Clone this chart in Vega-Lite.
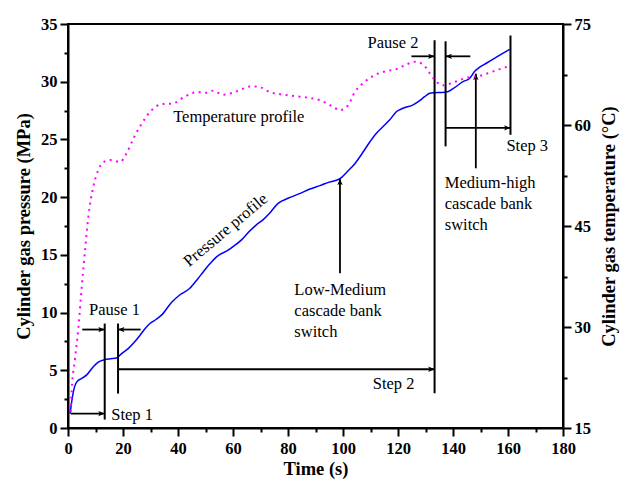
{
  "$schema": "https://vega.github.io/schema/vega-lite/v6.json",
  "width": 495,
  "height": 404,
  "autosize": "none",
  "padding": {"left": 68, "top": 24, "right": 58, "bottom": 54},
  "background": "white",
  "config": {
    "font": "Liberation Serif",
    "view": {"stroke": "black", "strokeWidth": 2},
    "axis": {
      "grid": false,
      "domainColor": "black",
      "domainWidth": 2,
      "tickColor": "black",
      "tickWidth": 2,
      "labelFont": "Liberation Serif",
      "labelFontWeight": "bold",
      "labelFontSize": 16.5,
      "labelColor": "black",
      "labelPadding": 3,
      "titleFont": "Liberation Serif",
      "titleFontWeight": "bold",
      "titleFontSize": 18.5,
      "titleColor": "black",
      "titlePadding": 3
    }
  },
  "datasets": {
    "pressure": [
      {"t": 0.75, "p": 1.25}, {"t": 1.3, "p": 2.2}, {"t": 2.0, "p": 3.2}, {"t": 3.2, "p": 4.0},
      {"t": 5.0, "p": 4.3}, {"t": 6.8, "p": 4.6}, {"t": 9.2, "p": 5.3}, {"t": 11.0, "p": 5.7},
      {"t": 13.5, "p": 5.93}, {"t": 15.5, "p": 6.0}, {"t": 17.7, "p": 6.07}, {"t": 19.5, "p": 6.45},
      {"t": 22.0, "p": 6.9}, {"t": 24.0, "p": 7.4}, {"t": 26.2, "p": 8.04}, {"t": 28.0, "p": 8.6},
      {"t": 29.8, "p": 9.05}, {"t": 32.0, "p": 9.4}, {"t": 34.1, "p": 9.8}, {"t": 37.7, "p": 10.9},
      {"t": 40.5, "p": 11.5}, {"t": 44.3, "p": 12.1}, {"t": 47.3, "p": 12.96}, {"t": 49.1, "p": 13.5},
      {"t": 51.5, "p": 14.2}, {"t": 54.0, "p": 14.83}, {"t": 58.2, "p": 15.4}, {"t": 60.5, "p": 15.8},
      {"t": 63.1, "p": 16.3}, {"t": 65.8, "p": 17.0}, {"t": 68.5, "p": 17.6}, {"t": 71.0, "p": 18.05},
      {"t": 73.3, "p": 18.6}, {"t": 76.4, "p": 19.46}, {"t": 80.0, "p": 19.9}, {"t": 84.2, "p": 20.3},
      {"t": 88.0, "p": 20.7}, {"t": 91.6, "p": 21.0}, {"t": 95.0, "p": 21.3}, {"t": 98.9, "p": 21.6},
      {"t": 101.5, "p": 22.2}, {"t": 104.3, "p": 22.9}, {"t": 107.0, "p": 23.8}, {"t": 109.8, "p": 24.8},
      {"t": 112.0, "p": 25.5}, {"t": 114.5, "p": 26.1}, {"t": 117.0, "p": 26.7}, {"t": 119.4, "p": 27.4},
      {"t": 121.8, "p": 27.7}, {"t": 125.5, "p": 28.0}, {"t": 127.5, "p": 28.3}, {"t": 129.7, "p": 28.7},
      {"t": 131.5, "p": 29.0}, {"t": 133.3, "p": 29.05}, {"t": 135.5, "p": 29.07}, {"t": 137.6, "p": 29.1},
      {"t": 140.0, "p": 29.4}, {"t": 143.6, "p": 30.0}, {"t": 146.1, "p": 30.3}, {"t": 147.9, "p": 30.9},
      {"t": 150.0, "p": 31.3}, {"t": 152.1, "p": 31.6}, {"t": 157.0, "p": 32.3}, {"t": 160.6, "p": 32.8}
    ],
    "temperature": [
      {"t": 1.0, "T": 17.4}, {"t": 1.35, "T": 20.6}, {"t": 2.5, "T": 25.1}, {"t": 3.8, "T": 30.0},
      {"t": 5.0, "T": 36.0}, {"t": 6.2, "T": 41.4}, {"t": 7.4, "T": 46.4}, {"t": 9.2, "T": 50.8},
      {"t": 11.0, "T": 53.3}, {"t": 12.9, "T": 54.5}, {"t": 15.3, "T": 54.8}, {"t": 18.9, "T": 54.5},
      {"t": 21.3, "T": 55.8}, {"t": 23.8, "T": 58.0}, {"t": 26.8, "T": 60.2}, {"t": 30.4, "T": 62.2},
      {"t": 34.1, "T": 63.1}, {"t": 38.2, "T": 63.2}, {"t": 42.4, "T": 64.2}, {"t": 47.3, "T": 64.9},
      {"t": 50.3, "T": 64.8}, {"t": 52.7, "T": 65.1}, {"t": 56.4, "T": 64.5}, {"t": 60.0, "T": 64.8},
      {"t": 63.0, "T": 65.3}, {"t": 66.1, "T": 65.7}, {"t": 69.1, "T": 65.7}, {"t": 73.3, "T": 64.9},
      {"t": 78.2, "T": 64.5}, {"t": 84.3, "T": 64.2}, {"t": 91.5, "T": 63.7}, {"t": 96.4, "T": 62.7},
      {"t": 98.8, "T": 62.2}, {"t": 101.8, "T": 62.9}, {"t": 104.3, "T": 64.9}, {"t": 107.3, "T": 66.2},
      {"t": 111.5, "T": 67.4}, {"t": 115.7, "T": 68.0}, {"t": 119.4, "T": 68.3}, {"t": 123.1, "T": 69.0},
      {"t": 126.1, "T": 69.4}, {"t": 129.1, "T": 69.0}, {"t": 131.5, "T": 67.7}, {"t": 133.3, "T": 66.7},
      {"t": 136.4, "T": 65.9}, {"t": 139.4, "T": 66.2}, {"t": 142.5, "T": 66.7}, {"t": 146.1, "T": 67.1},
      {"t": 149.8, "T": 67.3}, {"t": 153.5, "T": 67.8}, {"t": 157.0, "T": 68.3}, {"t": 160.1, "T": 68.7}
    ],
    "markers": [
      {"t": 13.35, "p": 0.73, "p2": 9.05},
      {"t": 18.2, "p": 2.98, "p2": 9.05},
      {"t": 133.3, "p": 3.0, "p2": 33.6},
      {"t": 137.3, "p": 24.4, "p2": 33.5},
      {"t": 160.9, "p": 25.4, "p2": 34.0}
    ],
    "arrows": [
      {"t": 1.0, "p": 1.25, "t2": 13.35, "p2": 1.25, "head": "right"},
      {"t": 5.2, "p": 8.53, "t2": 13.35, "p2": 8.53, "head": "right"},
      {"t": 26.4, "p": 8.53, "t2": 18.2, "p2": 8.53, "head": "left"},
      {"t": 18.2, "p": 5.09, "t2": 133.3, "p2": 5.09, "head": "right"},
      {"t": 124.9, "p": 32.2, "t2": 133.3, "p2": 32.2, "head": "right"},
      {"t": 146.3, "p": 32.2, "t2": 137.3, "p2": 32.2, "head": "left"},
      {"t": 137.3, "p": 26.0, "t2": 160.9, "p2": 26.0, "head": "right"},
      {"t": 98.9, "p": 13.4, "t2": 98.9, "p2": 21.6, "head": "up"},
      {"t": 148.3, "p": 22.5, "t2": 148.3, "p2": 30.7, "head": "up"}
    ],
    "labels": [
      {"t": 16.9, "p": 10.2, "text": "Pause 1"},
      {"t": 23.3, "p": 1.1, "text": "Step 1"},
      {"t": 118.4, "p": 3.8, "text": "Step 2"},
      {"t": 118.2, "p": 33.36, "text": "Pause 2"},
      {"t": 167.0, "p": 24.4, "text": "Step 3"},
      {"t": 62.1, "p": 26.9, "text": "Temperature profile"}
    ],
    "notes": [
      {"t": 82.3, "p": 11.94, "text": "Low-Medium"},
      {"t": 82.3, "p": 10.14, "text": "cascade bank"},
      {"t": 82.3, "p": 8.34, "text": "switch"},
      {"t": 137.0, "p": 21.2, "text": "Medium-high"},
      {"t": 137.0, "p": 19.4, "text": "cascade bank"},
      {"t": 137.0, "p": 17.6, "text": "switch"}
    ],
    "curveLabels": [
      {"t": 57.3, "p": 17.15, "text": "Pressure profile"}
    ]
  },
  "encoding": {
    "x": {
      "field": "t",
      "type": "quantitative",
      "title": "Time (s)",
      "scale": {"domain": [0, 180], "nice": false},
      "axis": {
        "values": [0, 10, 20, 30, 40, 50, 60, 70, 80, 90, 100, 110, 120, 130, 140, 150, 160, 170, 180],
        "labelExpr": "datum.value % 20 === 0 ? datum.label : ''",
        "tickSize": {"condition": {"test": "datum.value % 20 === 0", "value": 8}, "value": 4},
        "labelPadding": 4,
        "labelFlush": false,
        "labelOverlap": false
      }
    }
  },
  "layer": [
    {
      "encoding": {
        "y": {
          "field": "p",
          "type": "quantitative",
          "title": "Cylinder gas pressure (MPa)",
          "scale": {"domain": [0, 35], "nice": false},
          "axis": {
            "values": [0, 2.5, 5, 7.5, 10, 12.5, 15, 17.5, 20, 22.5, 25, 27.5, 30, 32.5, 35],
            "labelExpr": "datum.value % 5 === 0 ? datum.label : ''",
            "tickSize": {"condition": {"test": "datum.value % 5 === 0", "value": 8}, "value": 4},
            "labelFlush": false,
            "labelOverlap": false,
            "titlePadding": 7
          }
        }
      },
      "layer": [
        {
          "data": {"name": "pressure"},
          "mark": {"type": "line", "color": "#0000ff", "strokeWidth": 1.5, "interpolate": "monotone"}
        },
        {
          "data": {"name": "markers"},
          "mark": {"type": "rule", "color": "black", "strokeWidth": 2},
          "encoding": {"y2": {"field": "p2"}}
        },
        {
          "data": {"name": "arrows"},
          "mark": {"type": "rule", "color": "black", "strokeWidth": 1.8},
          "encoding": {"x2": {"field": "t2"}, "y2": {"field": "p2"}}
        },
        {
          "data": {"name": "arrows"},
          "mark": {"type": "point", "filled": true, "color": "black", "opacity": 1, "size": 160, "strokeWidth": 0},
          "encoding": {
            "x": {"field": "t2", "type": "quantitative", "title": "Time (s)"},
            "y": {"field": "p2", "type": "quantitative", "title": "Cylinder gas pressure (MPa)"},
            "shape": {
              "field": "head",
              "type": "nominal",
              "scale": {
                "domain": ["right", "left", "up"],
                "range": ["M-1,-0.42L0,0L-1,0.42L-0.8,0Z", "M1,-0.42L0,0L1,0.42L0.8,0Z", "M-0.42,1L0,0L0.42,1L0,0.8Z"]
              },
              "legend": null
            }
          }
        },
        {
          "data": {"name": "labels"},
          "mark": {"type": "text", "font": "Liberation Serif", "fontSize": 16.5, "color": "black", "align": "center", "baseline": "middle"},
          "encoding": {"text": {"field": "text"}}
        },
        {
          "data": {"name": "notes"},
          "mark": {"type": "text", "font": "Liberation Serif", "fontSize": 16.5, "color": "black", "align": "left", "baseline": "middle"},
          "encoding": {"text": {"field": "text"}}
        },
        {
          "data": {"name": "curveLabels"},
          "mark": {"type": "text", "font": "Liberation Serif", "fontSize": 16.5, "color": "black", "align": "center", "baseline": "middle", "angle": -40},
          "encoding": {"text": {"field": "text"}}
        }
      ]
    },
    {
      "data": {"name": "temperature"},
      "mark": {"type": "line", "color": "#ff00ff", "strokeWidth": 2, "strokeDash": [2, 4.5], "interpolate": "monotone"},
      "encoding": {
        "y": {
          "field": "T",
          "type": "quantitative",
          "title": "Cylinder gas temperature (°C)",
          "scale": {"domain": [15, 75], "nice": false},
          "axis": {
            "orient": "right",
            "values": [15, 22.5, 30, 37.5, 45, 52.5, 60, 67.5, 75],
            "labelExpr": "(datum.value - 15) % 15 === 0 ? datum.label : ''",
            "tickSize": {"condition": {"test": "(datum.value - 15) % 15 === 0", "value": 8}, "value": 4},
            "labelFlush": false,
            "labelOverlap": false,
            "titleAngle": 270,
            "titleBaseline": "top",
            "titlePadding": 9
          }
        }
      }
    }
  ],
  "resolve": {"scale": {"y": "independent"}}
}
